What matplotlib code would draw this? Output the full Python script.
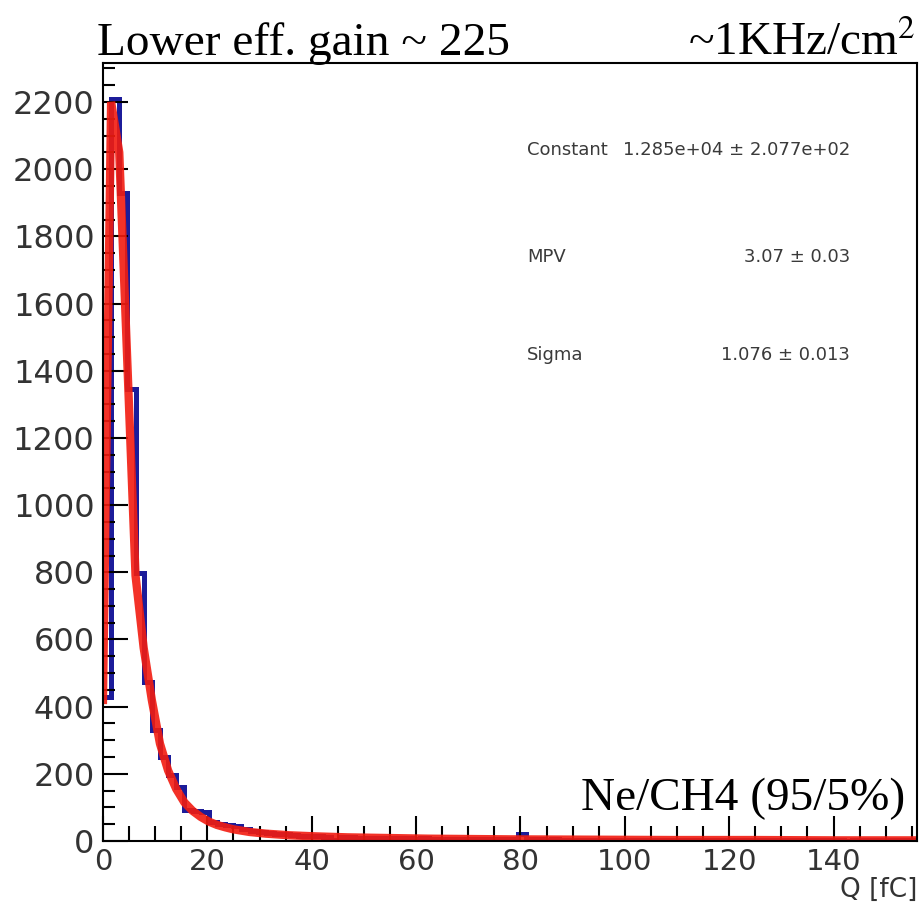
import numpy as np
import matplotlib
matplotlib.use("Agg")
import matplotlib.pyplot as plt
from matplotlib.ticker import MultipleLocator

# charge histogram: 100 bins over 0-156 fC
bin_edges = np.linspace(0, 156, 101)
counts = [
    430, 2210, 1930, 1345, 798, 473, 330, 250, 196, 160,
    92, 88, 85, 57, 50, 47, 44, 36, 30, 28,
    25, 22, 20, 18, 16, 15, 14, 12, 4, 11,
    11, 10, 10, 9, 9, 8, 9, 8, 7, 8,
    7, 7, 6, 7, 6, 6, 6, 5, 6, 5,
    5, 22, 5, 5, 4, 5, 4, 4, 4, 4,
    4, 4, 3, 4, 3, 3, 4, 3, 3, 3,
    3, 3, 3, 3, 3, 3, 2, 3, 3, 2,
    3, 2, 2, 3, 2, 2, 2, 2, 2, 2,
    2, 0, 2, 2, 2, 2, 2, 2, 2, 2,
]

# fitted curve, drawn as a polyline through these points
fit_q = [0, 1.56, 3.12, 4.68, 6.24, 7.8, 9.36, 10.92, 12.48, 14.04, 15.6,
         17.16, 18.72, 20.28, 21.84, 23.4, 24.96, 26.52, 28.08, 31.2, 35.88,
         40.56, 46.8, 54.6, 62.4, 78, 93.6, 109.2, 124.8, 140.4, 156]
fit_val = [420, 2200, 2050, 1420, 790, 575, 420, 290, 210, 155, 115,
           90, 72, 58, 48, 41, 35, 31, 27, 22, 17,
           14, 11, 9, 7, 5, 4, 3, 3, 2, 2]

fit_names = ["Constant", "MPV", "Sigma"]
fit_results = ["1.285e+04 \u00b1 2.077e+02", "3.07 \u00b1 0.03", "1.076 \u00b1 0.013"]

fig = plt.figure(figsize=(9.21, 9.11), dpi=100)
ax = fig.add_axes([0.1118, 0.0768, 0.8839, 0.854])

ax.stairs(counts, bin_edges, color="#1c1c9a", linewidth=3.6, baseline=None)
ax.plot(fit_q, fit_val, color="#f21c10", linewidth=6, alpha=0.9,
        solid_joinstyle="miter")

ax.set_xlim(0, 156)
ax.set_ylim(0, 2316)
ax.xaxis.set_major_locator(MultipleLocator(20))
ax.xaxis.set_minor_locator(MultipleLocator(5))
ax.yaxis.set_major_locator(MultipleLocator(200))
ax.yaxis.set_minor_locator(MultipleLocator(50))

ax.tick_params(which="both", direction="in", top=False, right=False,
               width=1.5, colors="black", labelcolor="#333333")
ax.tick_params(axis="y", which="major", length=18, pad=6, labelsize=23)
ax.tick_params(axis="y", which="minor", length=8.6)
ax.tick_params(axis="x", which="major", length=18, pad=5, labelsize=21)
ax.tick_params(axis="x", which="minor", length=10.8)
for lab in ax.get_xticklabels() + ax.get_yticklabels():
    lab.set_family("DejaVu Sans")
for sp in ax.spines.values():
    sp.set_linewidth(1.5)

ax.text(1.0, -0.063, "Q [fC]", transform=ax.transAxes, ha="right", va="center",
        fontsize=19, color="#333333", family="DejaVu Sans")

# fit parameter box
for name, res, y in zip(fit_names, fit_results, [150, 257, 355]):
    fy = 1 - y / 911
    fig.text(527 / 921, fy, name, ha="left", va="center", fontsize=13,
             color="#3a3a3a")
    fig.text(850 / 921, fy, res, ha="right", va="center", fontsize=13,
             color="#3a3a3a")

serif = "Liberation Serif"
fig.text(97 / 921, 1 - 55 / 911, "Lower eff. gain ~ 225", ha="left",
         va="baseline", fontsize=34, family=serif)
fig.text(916 / 921, 1 - 55 / 911, "~1KHz/cm$^2$", ha="right",
         va="baseline", fontsize=34, family=serif, math_fontfamily="stix")
ax.text(0.985, 0.04, "Ne/CH4 (95/5%)", transform=ax.transAxes, ha="right",
        va="baseline", fontsize=34, family=serif)

fig.savefig("out.png", dpi=100)
